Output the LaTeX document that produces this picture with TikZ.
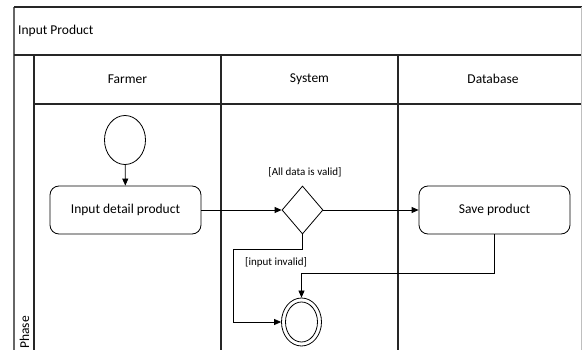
\documentclass[tikz,border=0pt]{standalone}
\usepackage{fontspec}
\setmainfont{Carlito}
\usetikzlibrary{shapes.geometric,arrows.meta}
\begin{document}
\begin{tikzpicture}[x=1pt,y=-1pt,
  frame/.style={line width=1.3pt,draw=black!85},
  action/.style={draw,line width=0.8pt,rounded corners=9pt,minimum width=151pt,minimum height=48pt,font=\fontsize{13.5}{15}\selectfont},
  decision/.style={draw,line width=0.8pt,diamond,minimum width=41pt,minimum height=48pt,inner sep=0pt,aspect=0.85},
  startnode/.style={draw,line width=0.8pt,ellipse,minimum width=41pt,minimum height=49pt,inner sep=0pt},
  endnode/.style={draw,line width=0.8pt,ellipse,minimum width=40pt,minimum height=48pt,inner sep=0pt},
  flow/.style={line width=0.8pt,-{Triangle[length=7pt,width=6pt]}},
  lbl/.style={font=\fontsize{11}{13}\selectfont,inner sep=0pt},
  hdr/.style={font=\fontsize{13.5}{15}\selectfont,inner sep=0pt}]
\useasboundingbox (0,0) rectangle (582,350);
\fill[white] (0,0) rectangle (582,350);
% frame
\draw[frame,draw=black!60] (14,7) -- (14,350);
\draw[frame] (14,7) -- (582,7);
\draw[frame] (14,55) -- (582,55);
\draw[frame] (34,104) -- (582,104);
\draw[frame] (34,55) -- (34,350);
\draw[frame] (221,55) -- (221,350);
\draw[frame] (398,55) -- (398,350);
\draw[line width=0.6pt,draw=black!25] (581,7) -- (581,350);
% texts
\node[hdr,anchor=west] (title) at (18,31) {Input Product};
\node[hdr] (farmer) at (127.5,79) {Farmer};
\node[hdr] (system) at (309.5,79) {System};
\node[hdr] (database) at (493,79) {Database};
\node[hdr,rotate=90,anchor=west] (phase) at (24.5,349) {Phase};
% nodes
\node[startnode] (start) at (125,140) {};
\node[action] (input) at (125.5,210) {Input detail product};
\node[decision] (dec) at (302.5,210) {};
\node[action] (save) at (494.5,210) {Save product};
\node[endnode] (final) at (301.5,322) {};
\node[draw,line width=0.8pt,ellipse,minimum width=32pt,minimum height=40pt,inner sep=0pt] (finalin) at (301.5,322) {};
\node[lbl] (validlbl) at (305,172) {[All data is valid]};
\node[lbl,anchor=west] (invalidlbl) at (245,262) {[input invalid]};
\coordinate (c1) at (302.5,249);
\coordinate (c2) at (233,249);
\coordinate (c3) at (233,322);
\coordinate (c4) at (494.5,273);
\coordinate (c5) at (301.5,273);
% connectors
\draw[flow] (start) -- (input);
\draw[flow] (input) -- (dec);
\draw[flow] (dec) -- (save);
\draw[flow] (dec.south) -- (c1) -- (c2) -- (c3) -- (final.west);
\draw[flow] (save.south) -- (c4) -- (c5) -- (final.north);
\end{tikzpicture}
\end{document}
